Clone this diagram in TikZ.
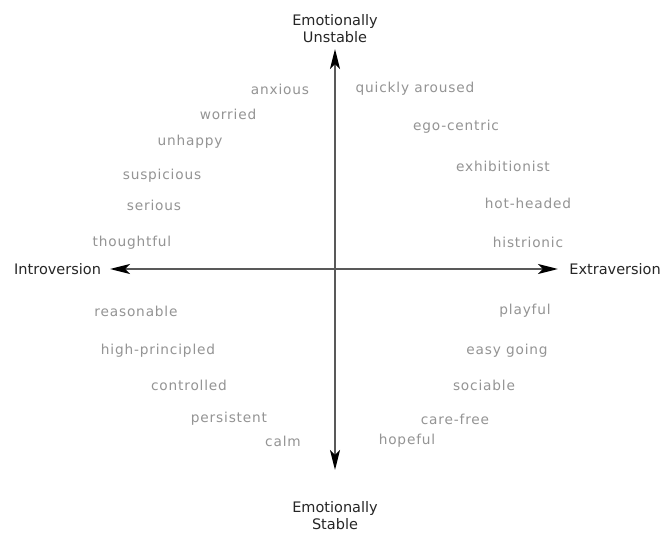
\documentclass[tikz,border=0pt]{standalone}
\usepackage{fontspec}
\setmainfont{DejaVu Sans}
\newfontfamily\wordfont[LetterSpace=6]{DejaVu Sans}
\usetikzlibrary{arrows.meta}
\begin{document}
\begin{tikzpicture}[x=1pt,y=-1pt,
  word/.style={font=\wordfont\fontsize{13.7}{15}\selectfont, text=black!42, inner sep=0pt},
  pole/.style={font=\fontsize{14.5}{17}\selectfont, text=black!85, align=center, inner sep=0pt},
  axis/.style={line width=2.2pt, draw=black!65,
    {Stealth[length=20pt,width=10pt,inset=5pt,color=black]}-{Stealth[length=20pt,width=10pt,inset=5pt,color=black]}}]
\useasboundingbox (0,0) rectangle (662,535);
\fill[white] (0,0) rectangle (662,535);
% poles
\node[pole] (unstable) at (335,29) {Emotionally\\Unstable};
\node[pole] (stable) at (335,516) {Emotionally\\Stable};
\node[pole, anchor=west] (intro) at (14,269) {Introversion};
\node[pole, anchor=east] (extra) at (661,269) {Extraversion};
\coordinate (T) at (335,49);
\coordinate (B) at (335,470);
\coordinate (L) at (110,269);
\coordinate (R) at (558,269);
\draw[axis] (B) -- (T);
\draw[axis] (L) -- (R);
% upper left
\node[word] (w1) at (280,89) {anxious};
\node[word] (w2) at (228,114) {worried};
\node[word] (w3) at (190,142) {unhappy};
\node[word] (w4) at (162,176) {suspicious};
\node[word] (w5) at (154,205) {serious};
\node[word] (w6) at (132,243) {thoughtful};
% upper right
\node[word] (w7) at (415,89) {quickly aroused};
\node[word] (w8) at (456,127) {ego-centric};
\node[word] (w9) at (503,166) {exhibitionist};
\node[word] (w10) at (528,203) {hot-headed};
\node[word] (w11) at (528,242) {histrionic};
% lower left
\node[word] (w12) at (136,311) {reasonable};
\node[word] (w13) at (158,351) {high-principled};
\node[word] (w14) at (189,385) {controlled};
\node[word] (w15) at (229,419) {persistent};
\node[word] (w16) at (283,441) {calm};
% lower right
\node[word] (w17) at (525,311) {playful};
\node[word] (w18) at (507,351) {easy going};
\node[word] (w19) at (484,385) {sociable};
\node[word] (w20) at (455,419) {care-free};
\node[word] (w21) at (407,441) {hopeful};
\end{tikzpicture}
\end{document}
